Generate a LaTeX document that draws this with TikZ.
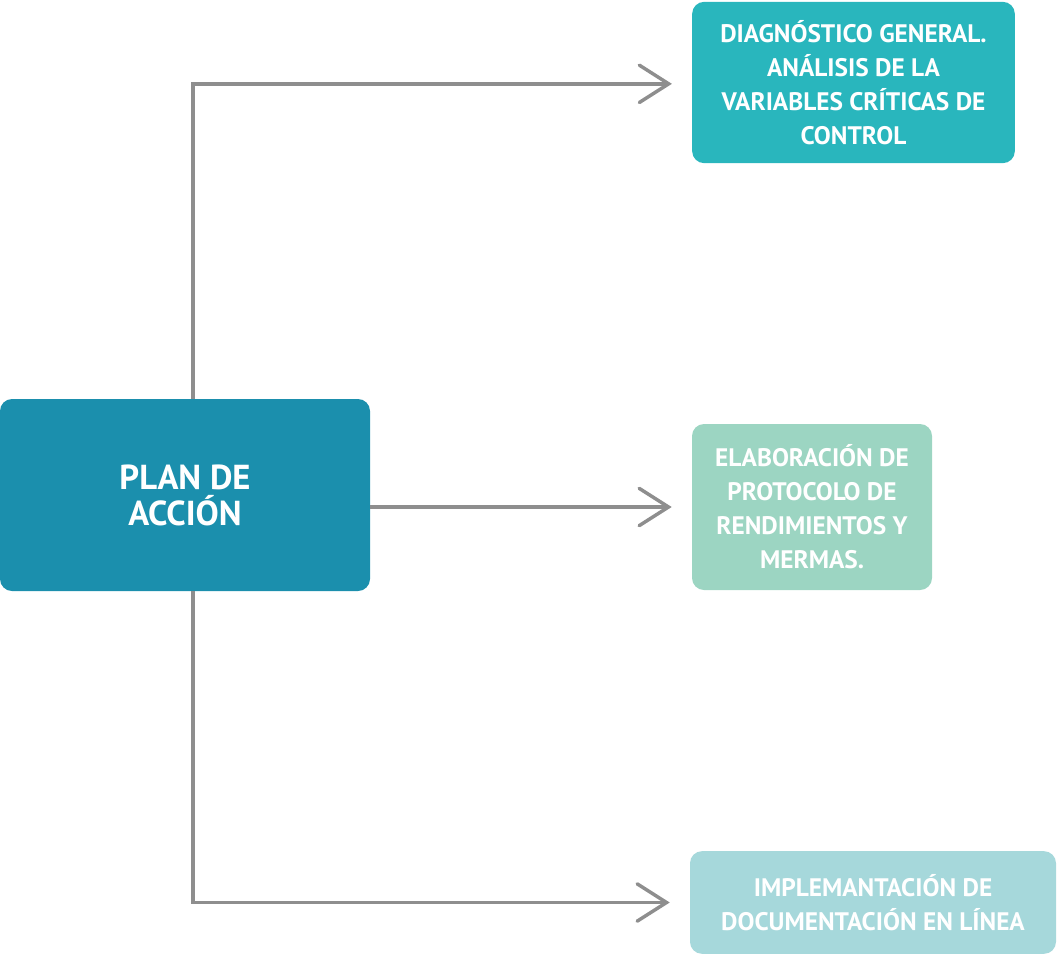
\documentclass[tikz,border=0pt]{standalone}
\usepackage{fontspec}
\setmainfont{PT Sans}
\usepackage{tikz}
\usetikzlibrary{arrows.meta}
\definecolor{planblue}{HTML}{1B8FAD}
\definecolor{diagteal}{HTML}{29B6BD}
\definecolor{elabgreen}{HTML}{9CD5C2}
\definecolor{impllight}{HTML}{A6D8DB}
\definecolor{conngray}{HTML}{8E8E8E}
\tikzset{>={Straight Barb[length=22pt, width=28pt, line cap=round]}}
\tikzset{
  box/.style={rounded corners=9pt, align=center, text=white, inner sep=0pt,
    font=\bfseries\fontsize{19}{25.5}\selectfont},
  conn/.style={draw=conngray, line width=2.6pt, ->, shorten >=15pt}
}

\begin{document}
\begin{tikzpicture}[x=0.75pt, y=-0.75pt]
        \useasboundingbox (0,0) rectangle (1063,956);
        \node[box, fill=planblue, minimum width=277.5pt, minimum height=144pt,
          font=\bfseries\fontsize{26}{27}\selectfont] (plan) at (185, 495) {PLAN DE\\ACCIÓN};
        \node[box, fill=diagteal, minimum width=242pt, minimum height=121pt] (diag) at (853.5, 82.5)
          {DIAGNÓSTICO GENERAL.\\ANÁLISIS DE LA\\VARIABLES CRÍTICAS DE\\CONTROL};
        \node[box, fill=elabgreen, minimum width=180pt, minimum height=124.5pt] (elab) at (812, 507)
          {ELABORACIÓN DE\\PROTOCOLO DE\\RENDIMIENTOS Y\\MERMAS.};
        \node[box, fill=impllight, minimum width=274.5pt, minimum height=77pt] (impl) at (873, 902.5)
          {IMPLEMANTACIÓN DE\\DOCUMENTACIÓN EN LÍNEA};
        \coordinate (top) at ([xshift=6pt]plan.north);
        \coordinate (bot) at ([xshift=6pt]plan.south);
        \draw[conn] (top) |- ([yshift=-1pt]diag.west);
        \draw[conn] (plan.east |- elab.west) -- (elab.west);
        \draw[conn] (bot) |- (impl.west);
    \end{tikzpicture}
\end{document}
